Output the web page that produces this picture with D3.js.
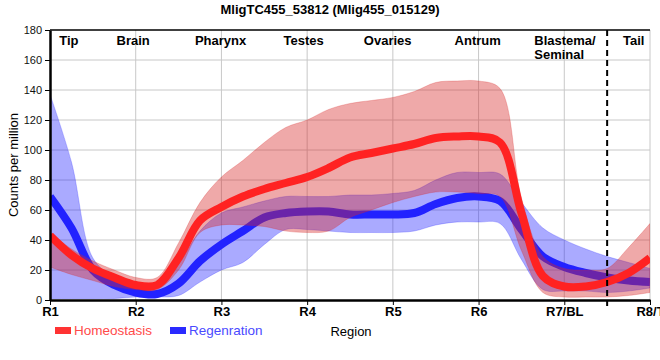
<!DOCTYPE html>
<html><head><meta charset="utf-8">
<script src="https://cdn.jsdelivr.net/npm/d3@7"></script>
<style>body{margin:0;background:#fff}svg{display:block}text{font-family:"Liberation Sans",Arial,sans-serif}</style>
</head><body><svg id="c" width="660" height="360"></svg>
<script>
const title = "MligTC455_53812 (Mlig455_015129)";
const xTickLabels = ["R1","R2","R3","R4","R5","R6","R7/BL","R8/T"];
const yTicks = [0,20,40,60,80,100,120,140,160,180];
const regionNames = ["Tip","Brain","Pharynx","Testes","Ovaries","Antrum","Blastema/|Seminal","Tail"];
const regionPos = [0.22,0.97,1.99,2.96,3.94,4.99,6.0,6.81];
const seriesNames = ["Homeostasis","Regenration"];
// sample positions along the body axis (R1 = 0 ... R8 = 7)
const xs = [0,0.25,0.5,0.75,1,1.25,1.5,1.75,2,2.25,2.5,2.75,3,3.25,3.5,3.75,4,4.25,4.5,4.75,5,5.25,5.5,5.75,6,6.25,6.5,6.75,7];
const homeoMean = [43,30,21,15,10,10,28,53,62,69,74,78,82,88,95,98,101,104,108,109,109,105,58,16,9,9,12,18,28];
const homeoHigh = [45,34,26,20,15,15,38,65,82,93,105,115,120,127,131,133,135,139,145,146,146,141,68,29,21,20,21,35,51];
const homeoLow  = [22,17,13,9,7,7,20,45,50,50,49,46,45,46,55,60,65,69,72,72,71,69,33,5,2,2,2,3,5];
const regenMean = [69,48,20,10,5,4,11,26,37,46,55,58,59,59,57,57,57,58,64,68,69,66,47,29,22,18,15,13,12];
const regenHigh = [137,92,28,15,9,10,24,46,58,62,66,69,69,69,70,70,71,73,80,85,85,84,65,48,40,34,29,25,21];
const regenLow  = [1,1,1,1,2,2,3,12,20,25,37,47,47,46,45,45,45,46,50,52,52,51,27,7,6,6,5,6,8];
const dividerPos = 6.5;

const svg = d3.select("#c");
const L=50,R=650,T=30,B=300;
const x = d3.scaleLinear().domain([0,7]).range([L,R]);
const y = d3.scaleLinear().domain([0,180]).range([B,T]);
const curve = d3.curveCatmullRom.alpha(0.5);

svg.append("defs").append("clipPath").attr("id","clip").append("rect").attr("x",L).attr("y",T).attr("width",R-L).attr("height",B-T);

// grid
const g = svg.append("g");
g.selectAll(".hg").data(yTicks.filter(v=>v>0&&v<180)).enter().append("line")
 .attr("x1",L).attr("x2",R).attr("y1",d=>y(d)).attr("y2",d=>y(d)).attr("stroke","#c8c8c8").attr("stroke-width",1);
g.selectAll(".vg").data(d3.range(1,8)).enter().append("line")
 .attr("x1",d=>x(d)).attr("x2",d=>x(d)).attr("y1",T).attr("y2",B).attr("stroke","#c8c8c8").attr("stroke-width",1);

const plot = svg.append("g").attr("clip-path","url(#clip)");
const area = (hi,lo)=>d3.area().x((d,i)=>x(xs[i])).y0((d,i)=>y(lo[i])).y1((d,i)=>y(hi[i])).curve(curve)(xs);
const line = (m)=>d3.line().x((d,i)=>x(xs[i])).y((d,i)=>y(m[i])).curve(curve)(xs);

plot.append("path").attr("d",area(regenHigh,regenLow)).attr("fill","#2020ff").attr("fill-opacity",0.38).attr("stroke","#2020ff").attr("stroke-opacity",0.25);
plot.append("path").attr("d",line(regenMean)).attr("fill","none").attr("stroke","#2222ff").attr("stroke-width",8);
plot.append("path").attr("d",area(homeoHigh,homeoLow)).attr("fill","#d82828").attr("fill-opacity",0.4).attr("stroke","#d82828").attr("stroke-opacity",0.25);
plot.append("path").attr("d",line(homeoMean)).attr("fill","none").attr("stroke","#ff2222").attr("stroke-width",8);

// divider
svg.append("line").attr("x1",x(dividerPos)).attr("x2",x(dividerPos)).attr("y1",T).attr("y2",B+6)
 .attr("stroke","#000").attr("stroke-width",2).attr("stroke-dasharray","6,4");

// frame top
svg.append("line").attr("x1",L).attr("x2",R).attr("y1",T).attr("y2",T).attr("stroke","#000").attr("stroke-width",1.5);

// axes
const ya = svg.append("g").attr("transform",`translate(${L},0)`).call(d3.axisLeft(y).tickValues(yTicks).tickSize(5).tickSizeOuter(0));
ya.select(".domain").attr("stroke-width",2.5);
ya.selectAll("text").attr("font-size",11).attr("fill","#111").attr("font-family","Liberation Sans, Arial");
const xa = svg.append("g").attr("transform",`translate(0,${B})`).call(d3.axisBottom(x).tickValues(d3.range(0,8)).tickFormat(i=>xTickLabels[i]).tickSize(5).tickSizeOuter(0));
xa.select(".domain").attr("stroke-width",2.5);
xa.selectAll("text").attr("font-size",13).attr("font-weight","bold").attr("fill","#000").attr("font-family","Liberation Sans, Arial").attr("dy","0.65em");

// region names
regionNames.forEach((n,i)=>{
  const parts=n.split("|");
  const t=svg.append("text").attr("font-size",13).attr("font-weight","bold").attr("fill","#000");
  if(parts.length>1){
    t.attr("x",x(regionPos[i])-30).attr("y",45).attr("text-anchor","start");
    parts.forEach((p,k)=>t.append("tspan").attr("x",x(regionPos[i])-30).attr("dy",k?14:0).text(p));
  } else {
    t.attr("x",x(regionPos[i])).attr("y",45).attr("text-anchor","middle").text(n);
  }
});

// title
svg.append("text").attr("x",330).attr("y",14).attr("text-anchor","middle").attr("font-size",13).attr("font-weight","bold").text(title);
// y title
svg.append("text").attr("transform","translate(18,165) rotate(-90)").attr("text-anchor","middle").attr("font-size",13).text("Counts per million");
// x title
svg.append("text").attr("x",351).attr("y",336).attr("text-anchor","middle").attr("font-size",13).text("Region");

// legend
const legCol=["#ff3333","#2a2aff"], legTxt=["#ff4a4a","#4a4aff"], legX=[55,170];
seriesNames.forEach((s,i)=>{
  svg.append("rect").attr("x",legX[i]).attr("y",327).attr("width",16).attr("height",7).attr("fill",legCol[i]);
  svg.append("text").attr("x",legX[i]+19).attr("y",335).attr("font-size",13.5).attr("fill",legTxt[i]).text(s);
});
</script></body></html>
